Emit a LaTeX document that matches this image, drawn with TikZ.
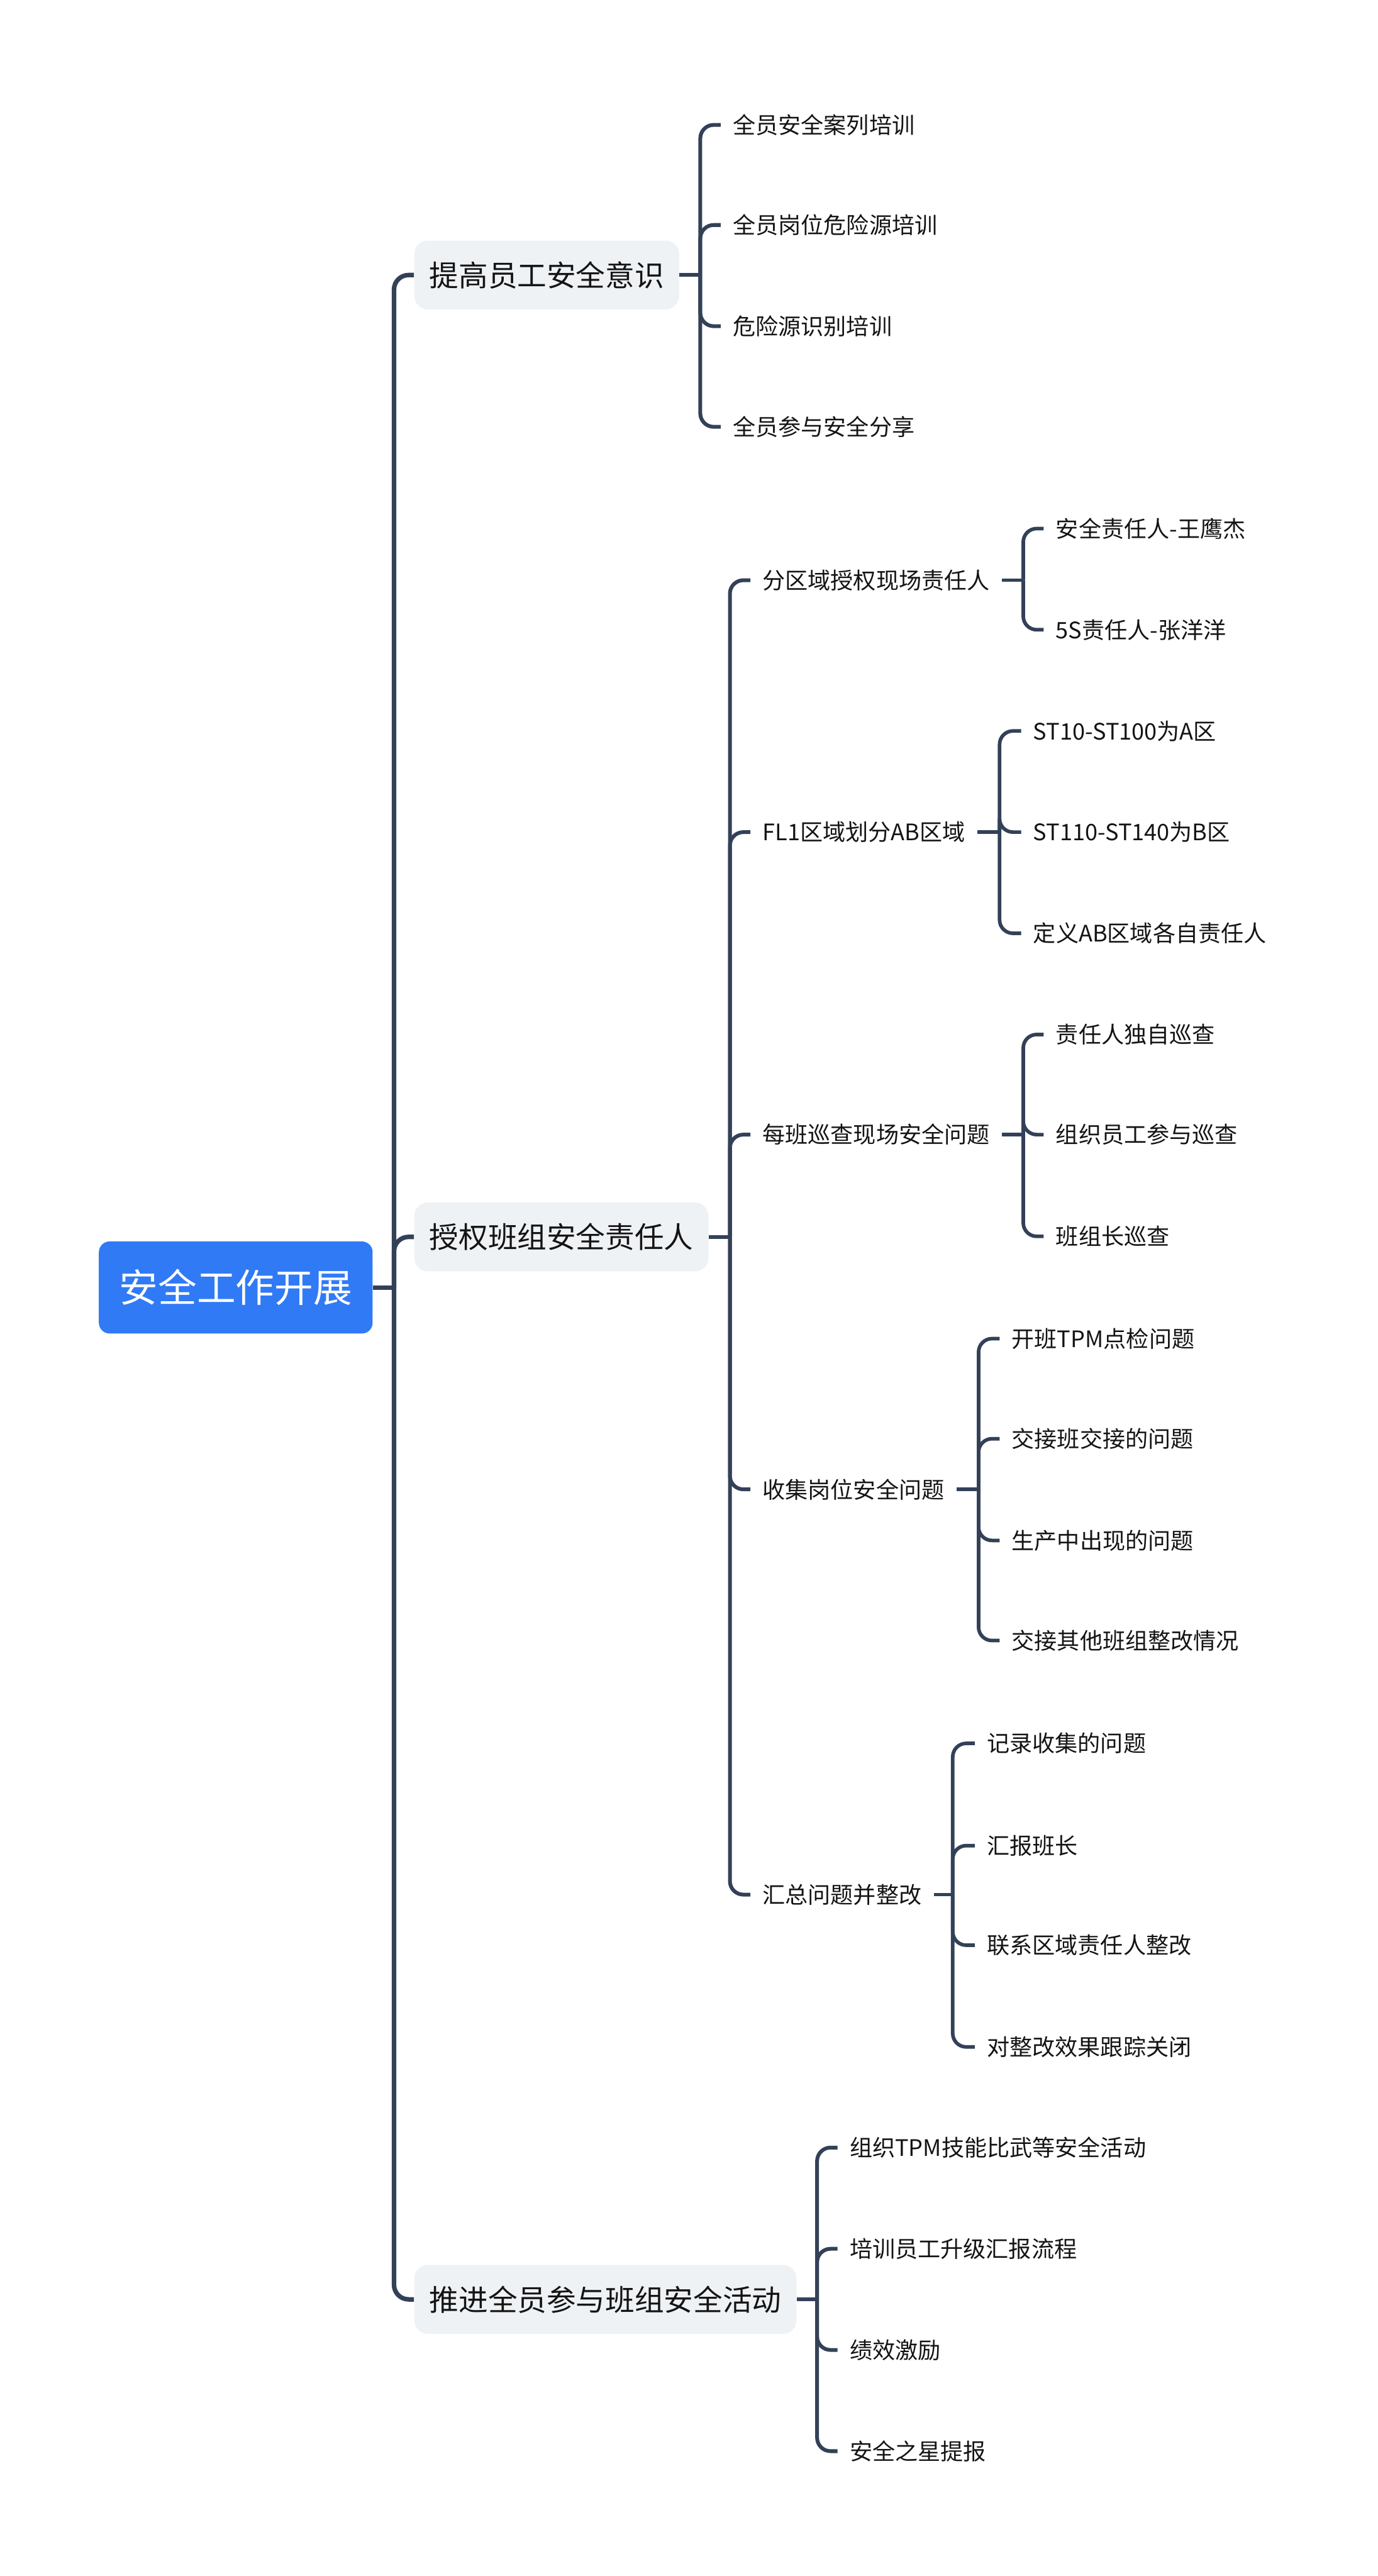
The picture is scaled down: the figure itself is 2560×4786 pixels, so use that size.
\documentclass[tikz,border=0pt]{standalone}
\usepackage{fontspec}
\setmainfont{Noto Sans CJK SC}
\definecolor{linkcol}{RGB}{51,65,88}
\definecolor{rootblue}{RGB}{49,122,246}
\definecolor{topicgray}{RGB}{239,242,245}
\definecolor{txtcol}{RGB}{20,20,20}

\begin{document}
\begin{tikzpicture}[x=0.01cm, y=-0.01cm,
    root/.style={anchor=west, fill=rootblue, text=white, rounded corners=0.2cm,
      inner xsep=0.38cm, minimum height=1.71cm, font=\fontsize{20.5pt}{24pt}\selectfont},
    topic/.style={anchor=west, fill=topicgray, text=txtcol, rounded corners=0.25cm,
      inner xsep=0.28cm, minimum height=1.28cm, font=\fontsize{15.5pt}{18pt}\selectfont},
    sub/.style={anchor=west, text=txtcol, inner xsep=0.22cm, inner ysep=0pt,
      font=\fontsize{12pt}{14pt}\selectfont},
    trunk/.style={draw=linkcol, line width=2.4pt, rounded corners=0.27cm},
    branch/.style={draw=linkcol, line width=2pt, rounded corners=0.25cm},
    twig/.style={draw=linkcol, line width=1.9pt, rounded corners=0.25cm}]
  \useasboundingbox (0,0) rectangle (2560,4786);

  \node[root] (work) at (183, 2392) {安全工作开展};
  \node[topic] (aware) at (769, 511) {提高员工安全意识};
  \node[topic] (duty) at (769, 2298) {授权班组安全责任人};
  \node[topic] (team) at (769, 4272) {推进全员参与班组安全活动};

  \node[sub] (train1) at (1339, 232) {全员安全案列培训};
  \node[sub] (train2) at (1339, 418) {全员岗位危险源培训};
  \node[sub] (train3) at (1339, 606) {危险源识别培训};
  \node[sub] (share) at (1339, 793) {全员参与安全分享};

  \node[sub] (zone) at (1394, 1078) {分区域授权现场责任人};
  \node[sub] (ab) at (1394, 1546) {FL1区域划分AB区域};
  \node[sub] (patrol) at (1394, 2108) {每班巡查现场安全问题};
  \node[sub] (collect) at (1394, 2767) {收集岗位安全问题};
  \node[sub] (sum) at (1394, 3520) {汇总问题并整改};

  \node[sub] (safe) at (1939, 982) {安全责任人-王鹰杰};
  \node[sub] (fives) at (1939, 1170) {5S责任人-张洋洋};

  \node[sub] (areaA) at (1897, 1358) {ST10-ST100为A区};
  \node[sub] (areaB) at (1897, 1546) {ST110-ST140为B区};
  \node[sub] (areaOwn) at (1897, 1734) {定义AB区域各自责任人};

  \node[sub] (alone) at (1939, 1922) {责任人独自巡查};
  \node[sub] (staff) at (1939, 2108) {组织员工参与巡查};
  \node[sub] (leader) at (1939, 2297) {班组长巡查};

  \node[sub] (tpm) at (1857, 2487) {开班TPM点检问题};
  \node[sub] (shift) at (1857, 2673) {交接班交接的问题};
  \node[sub] (prod) at (1857, 2862) {生产中出现的问题};
  \node[sub] (other) at (1857, 3048) {交接其他班组整改情况};

  \node[sub] (record) at (1811, 3239) {记录收集的问题};
  \node[sub] (report) at (1811, 3429) {汇报班长};
  \node[sub] (contact) at (1811, 3614) {联系区域责任人整改};
  \node[sub] (close) at (1811, 3803) {对整改效果跟踪关闭};

  \node[sub] (contest) at (1556, 3990) {组织TPM技能比武等安全活动};
  \node[sub] (flow) at (1556, 4178) {培训员工升级汇报流程};
  \node[sub] (bonus) at (1556, 4366) {绩效激励};
  \node[sub] (star) at (1556, 4554) {安全之星提报};

  \coordinate (hub) at (732, 2392);
  \coordinate (busAware) at (1301, 511);
  \coordinate (busDuty) at (1356, 2298);
  \coordinate (busTeam) at (1518, 4272);
  \coordinate (busZone) at (1901, 1078);
  \coordinate (busAb) at (1857, 1546);
  \coordinate (busPatrol) at (1901, 2108);
  \coordinate (busCollect) at (1818, 2767);
  \coordinate (busSum) at (1770, 3520);

  \draw[trunk] (work.east) -- (hub);
  \draw[trunk] (hub) |- (aware.west);
  \draw[trunk] (hub) |- (duty.west);
  \draw[trunk] (hub) |- (team.west);

  \draw[branch] (aware.east) -- (busAware);
  \draw[branch] (busAware) |- (train1.west);
  \draw[branch] (busAware) |- (train2.west);
  \draw[branch] (busAware) |- (train3.west);
  \draw[branch] (busAware) |- (share.west);

  \draw[branch] (duty.east) -- (busDuty);
  \draw[branch] (busDuty) |- (zone.west);
  \draw[branch] (busDuty) |- (ab.west);
  \draw[branch] (busDuty) |- (patrol.west);
  \draw[branch] (busDuty) |- (collect.west);
  \draw[branch] (busDuty) |- (sum.west);

  \draw[branch] (team.east) -- (busTeam);
  \draw[branch] (busTeam) |- (contest.west);
  \draw[branch] (busTeam) |- (flow.west);
  \draw[branch] (busTeam) |- (bonus.west);
  \draw[branch] (busTeam) |- (star.west);

  \draw[twig] (zone.east) -- (busZone);
  \draw[twig] (busZone) |- (safe.west);
  \draw[twig] (busZone) |- (fives.west);

  \draw[twig] (ab.east) -- (busAb);
  \draw[twig] (busAb) |- (areaA.west);
  \draw[twig] (busAb) |- (areaB.west);
  \draw[twig] (busAb) |- (areaOwn.west);

  \draw[twig] (patrol.east) -- (busPatrol);
  \draw[twig] (busPatrol) |- (alone.west);
  \draw[twig] (busPatrol) |- (staff.west);
  \draw[twig] (busPatrol) |- (leader.west);

  \draw[twig] (collect.east) -- (busCollect);
  \draw[twig] (busCollect) |- (tpm.west);
  \draw[twig] (busCollect) |- (shift.west);
  \draw[twig] (busCollect) |- (prod.west);
  \draw[twig] (busCollect) |- (other.west);

  \draw[twig] (sum.east) -- (busSum);
  \draw[twig] (busSum) |- (record.west);
  \draw[twig] (busSum) |- (report.west);
  \draw[twig] (busSum) |- (contact.west);
  \draw[twig] (busSum) |- (close.west);
\end{tikzpicture}
\end{document}
